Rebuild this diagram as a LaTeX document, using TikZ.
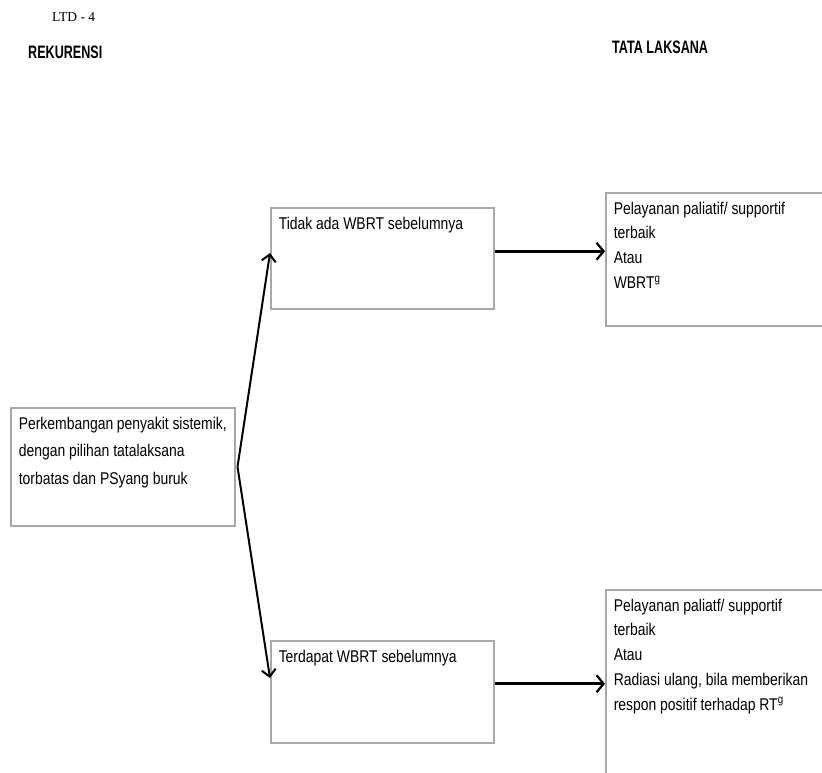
\documentclass[tikz,border=0pt]{standalone}
\usepackage{fontspec}
\setmainfont{Liberation Sans}[FakeStretch=0.82]
\newfontfamily\headfont{Liberation Sans Bold}[FakeStretch=0.7]
\newfontfamily\serifft{Liberation Serif}
\usetikzlibrary{arrows.meta,calc}
\definecolor{boxgray}{HTML}{A8A8A8}
\tikzset{
  box/.style={draw=boxgray, line width=1.5pt, anchor=north west, inner xsep=8pt, inner ysep=9pt, align=left, font=\fontsize{17}{27.5}\selectfont},
  rbox/.style={box, font=\fontsize{17}{24.75}\selectfont},
  head/.style={anchor=west, inner sep=0pt, font=\fontsize{18}{20}\headfont},
  harr/.style={line width=2.8pt, -{Straight Barb[length=7pt,width=17pt,line width=2.2pt]}},
  darr/.style={line width=2pt, -{Straight Barb[length=7pt,width=14pt,line width=2pt]}}
}
\newcommand{\boxtext}[3]{\begin{minipage}[t][#2pt][t]{#1pt}#3\end{minipage}}
\begin{document}
\begin{tikzpicture}[x=1pt,y=-1pt]
\useasboundingbox (0,0) rectangle (822,772);
\clip (0,0) rectangle (822,772);
\node[anchor=west, inner sep=0pt, font=\fontsize{13.5}{15}\serifft] (ltd) at (52,17) {LTD - 4};
\node[head] (rek) at (28,52) {REKURENSI};
\node[head] (tl) at (612,47) {TATA LAKSANA};

\node[box] (L) at (10,407) {\boxtext{208}{100}{Perkembangan penyakit sistemik,\\dengan pilihan tatalaksana\\torbatas dan PSyang buruk}};
\node[box] (T) at (270,207) {\boxtext{207}{83}{Tidak ada WBRT sebelumnya}};
\node[box] (B) at (270,640) {\boxtext{207}{84}{Terdapat WBRT sebelumnya}};
\node[rbox] (TR) at (605,192) {\boxtext{284}{115}{Pelayanan paliatif/ supportif\\terbaik\\Atau\\WBRT\textsuperscript{g}}};
\node[rbox] (BR) at (605,589) {\boxtext{284}{200}{Pelayanan paliatf/ supportif\\terbaik\\Atau\\Radiasi ulang, bila memberikan\\respon positif terhadap RT\textsuperscript{g}}};

\coordinate (J) at ([xshift=2pt]L.east);
\draw[darr] (J) -- ([yshift=-46pt]T.north west);
\draw[darr] (J) -- ([yshift=-38pt]B.north west);
\draw[harr] ([yshift=7pt]T.east) -- ([yshift=7pt]T.east -| TR.west);
\draw[harr] ([yshift=8pt]B.east) -- ([yshift=8pt]B.east -| BR.west);
\end{tikzpicture}
\end{document}
